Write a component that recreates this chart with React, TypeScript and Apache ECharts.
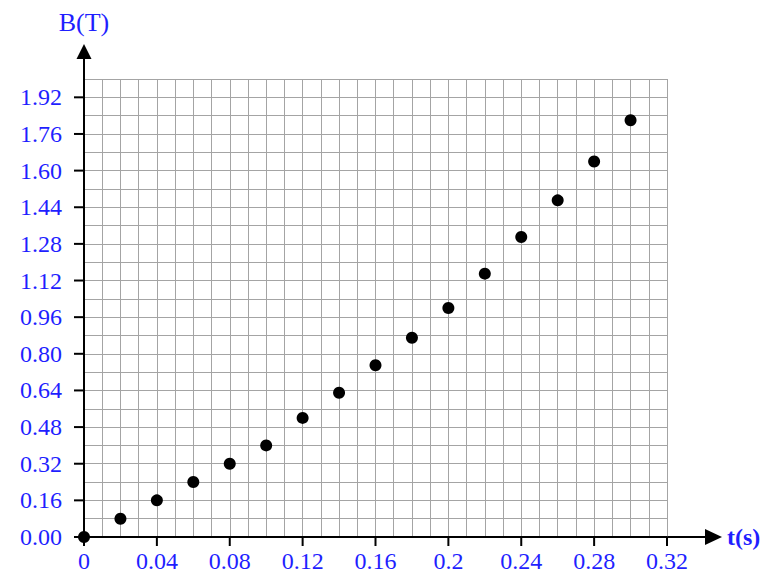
import React, { useEffect, useRef } from "react";
import * as echarts from "echarts";

const tValues = [0, 0.02, 0.04, 0.06, 0.08, 0.1, 0.12, 0.14, 0.16, 0.18, 0.2, 0.22, 0.24, 0.26, 0.28, 0.3];
const bValues = [0, 0.08, 0.16, 0.24, 0.32, 0.4, 0.52, 0.63, 0.75, 0.87, 1.0, 1.15, 1.31, 1.47, 1.64, 1.82];
const xTickLabels = ["0", "0.04", "0.08", "0.12", "0.16", "0.2", "0.24", "0.28", "0.32"];
const yTickLabels = ["0.00", "0.16", "0.32", "0.48", "0.64", "0.80", "0.96", "1.12", "1.28", "1.44", "1.60", "1.76", "1.92"];

const BLUE = "#1f1fff";
const FONT = "'Liberation Serif', 'Times New Roman', serif";

export default function App() {
  const ref = useRef<HTMLDivElement>(null);
  useEffect(() => {
    if (!ref.current) return;
    const chart = echarts.init(ref.current, undefined, { renderer: "svg" });
    const gridLine = { show: true, lineStyle: { color: "#a4a4a4", width: 1 } };
    const labelStyle = { color: BLUE, fontFamily: FONT, fontSize: 24 };
    chart.setOption({
      animation: false,
      grid: { left: 84, top: 79, width: 583, height: 458, containLabel: false },
      xAxis: [
        {
          type: "value",
          min: 0,
          max: 0.32,
          interval: 0.01,
          axisLine: { show: true, onZero: false, lineStyle: { color: "#000", width: 2 } },
          axisTick: { show: false },
          axisLabel: { show: false },
          splitLine: gridLine,
          z: 3,
        },
        {
          type: "value",
          position: "bottom",
          min: 0,
          max: 0.32,
          interval: 0.04,
          axisLine: { show: false, onZero: false },
          axisTick: { show: false },
          axisLabel: {
            show: true,
            margin: 12,
            ...labelStyle,
            formatter: (v: number) => xTickLabels[Math.round(v / 0.04)] ?? "",
          },
          splitLine: { show: false },
        },
      ],
      yAxis: [
        {
          type: "value",
          min: 0,
          max: 2.0,
          interval: 0.08,
          axisLine: { show: true, onZero: false, lineStyle: { color: "#000", width: 2 } },
          axisTick: { show: false },
          axisLabel: { show: false },
          splitLine: gridLine,
          z: 3,
        },
        {
          type: "value",
          position: "left",
          min: 0,
          max: 2.0,
          interval: 0.16,
          axisLine: { show: false, onZero: false },
          axisTick: { show: false },
          axisLabel: {
            show: true,
            showMaxLabel: false,
            margin: 22,
            ...labelStyle,
            formatter: (v: number) => {
              const i = Math.round(v / 0.16);
              return Math.abs(i * 0.16 - v) < 1e-6 ? yTickLabels[i] ?? "" : "";
            },
          },
          splitLine: { show: false },
        },
      ],
      series: [
        {
          type: "scatter",
          xAxisIndex: 0,
          yAxisIndex: 0,
          data: tValues.map((t, i) => [t, bValues[i]]),
          symbol: "circle",
          symbolSize: 12,
          itemStyle: { color: "#000", opacity: 1 },
          z: 5,
        },
      ],
    });
    const o = chart.convertToPixel({ gridIndex: 0 }, [0, 0]) as number[];
    const xe = chart.convertToPixel({ gridIndex: 0 }, [0.32, 0]) as number[];
    const ye = chart.convertToPixel({ gridIndex: 0 }, [0, 2.0]) as number[];
    const elements: any[] = [];
    xTickLabels.forEach((s) => {
      const v = Number(s);
      const p = chart.convertToPixel({ gridIndex: 0 }, [v, 0]) as number[];
      elements.push({
        type: "rect",
        shape: { x: p[0] - 1, y: o[1], width: 2, height: 9 },
        style: { fill: "#000" },
        z: 10,
      });
    });
    yTickLabels.forEach((s) => {
      const v = Number(s);
      const p = chart.convertToPixel({ gridIndex: 0 }, [0, v]) as number[];
      elements.push({
        type: "rect",
        shape: { x: o[0] - 10, y: p[1] - 1, width: 10, height: 2 },
        style: { fill: "#000" },
        z: 10,
      });
    });
    elements.push(
      { type: "line", shape: { x1: xe[0], y1: o[1], x2: 708, y2: o[1] }, style: { stroke: "#000", lineWidth: 2 } },
      { type: "polygon", shape: { points: [[705, o[1] - 8], [722, o[1]], [705, o[1] + 8]] }, style: { fill: "#000" } },
      { type: "line", shape: { x1: o[0], y1: ye[1], x2: o[0], y2: 56 }, style: { stroke: "#000", lineWidth: 2 } },
      { type: "polygon", shape: { points: [[o[0] - 7.5, 59], [o[0], 44], [o[0] + 7.5, 59]] }, style: { fill: "#000" } },
      {
        type: "text",
        x: o[0],
        y: 22,
        style: { text: "B(T)", fill: BLUE, font: `26px ${FONT}`, align: "center", verticalAlign: "middle" },
      },
      {
        type: "text",
        x: 727,
        y: o[1],
        style: { text: "t(s)", fill: BLUE, font: `bold 24px ${FONT}`, align: "left", verticalAlign: "middle" },
      }
    );
    chart.setOption({ graphic: { elements } });
    return () => chart.dispose();
  }, []);
  return <div ref={ref} style={{ position: "absolute", left: 0, top: 0, width: 764, height: 578 }} />;
}
